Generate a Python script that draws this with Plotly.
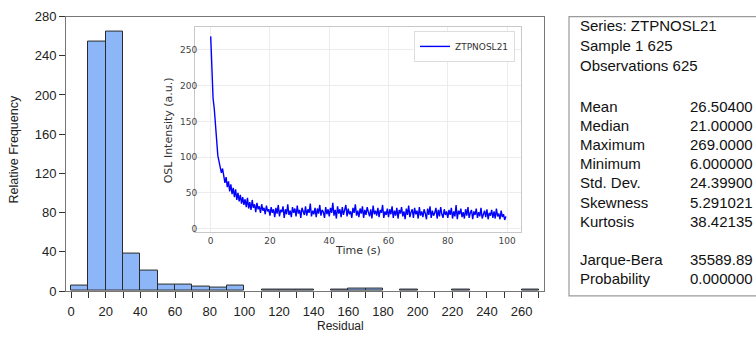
import plotly.graph_objects as go

# ---------------- data ----------------
bin_start = [0, 10, 20, 30, 40, 50, 60, 70, 80, 90, 100, 110, 120, 130,
             140, 150, 160, 170, 180, 190, 200, 210, 220, 230, 240, 250, 260]
bin_count = [6, 255, 265, 38, 21, 7, 7, 5, 4, 6, None, 1, 1, 1,
             None, 1, 2, 2, None, 1, None, None, 1, None, None, None, 1]
bin_width = 10

x_ticks = [0, 20, 40, 60, 80, 100, 120, 140, 160, 180, 200, 220, 240, 260]
y_ticks = [0, 40, 80, 120, 160, 200, 240, 280]

series_name = "ZTPNOSL21"
time_step = 0.4  # seconds between the values
osl_intensity = [
    269, 210, 182, 168, 148, 120, 102, 94, 88, 78,
    84, 70, 64, 72, 58, 66, 52, 62, 48, 57,
    44, 55, 40, 50, 38, 47, 35, 44, 33, 41,
    30, 43, 28, 37, 26, 40, 29, 34, 23, 36,
    27, 31, 22, 34, 25, 29, 20, 32, 24, 27,
    18, 30, 22, 27, 16, 29, 21, 33, 17, 26, 23, 31, 15, 27, 20, 34, 19, 25, 16, 30,
    22, 28, 17, 32, 21, 26, 15, 29, 24, 19, 31, 18, 27, 22, 35, 17, 25, 20, 29, 16,
    28, 21, 33, 18, 26, 23, 15, 30, 20, 27,
    17, 29, 22, 36, 18, 26, 14, 31, 21, 27, 16, 30, 19, 25, 33, 17, 28, 20, 24, 15,
    29, 22, 34, 18, 25, 16, 28, 21, 31, 15, 26, 19, 30, 23, 17, 27, 14, 32, 20, 25,
    18, 29, 16, 26, 22, 33, 15, 24, 19, 28,
    16, 27, 20, 31, 15, 25, 18, 29, 14, 26, 21, 30, 17, 24, 13, 28, 19, 32, 16, 23,
    27, 15, 29, 20, 25, 14, 30, 18, 24, 16, 27, 21, 13, 28, 19, 31, 15, 25, 18, 22,
    29, 14, 26, 17, 30, 20, 15, 27, 19, 24,
    15, 26, 19, 29, 14, 24, 17, 33, 13, 25, 20, 28, 16, 23, 14, 27, 18, 30, 15, 22,
    26, 13, 24, 19, 28, 15, 23, 17, 29, 14, 21, 25, 16, 27, 13, 22, 18, 26, 15, 24,
    14, 28, 17, 21, 13, 25, 16, 20, 12, 17,
]
time_s = [i * time_step for i in range(len(osl_intensity))]

stat_labels = ["Mean", "Median", "Maximum", "Minimum", "Std. Dev.",
               "Skewness", "Kurtosis"]
stat_values = ["26.50400", "21.00000", "269.0000", "6.000000", "24.39900",
               "5.291021", "38.42135"]
test_labels = ["Jarque-Bera", "Probability"]
test_values = ["35589.89", "0.000000"]
header_lines = ["Series: ZTPNOSL21", "Sample 1 625", "Observations 625"]

# ---------------- layout helpers ----------------
W, H = 756, 343
def px(x):
    return x / W
def py(y):
    return 1 - y / H

ARIAL = "Liberation Sans, Arial, sans-serif"
DEJAVU = "DejaVu Sans, sans-serif"

fig = go.Figure()

fig.add_trace(go.Bar(
    x=bin_start, y=bin_count, width=bin_width, offset=0,
    marker=dict(color="rgb(140,182,248)", line=dict(color="#2a2a2a", width=1)),
    showlegend=False, xaxis="x", yaxis="y", hoverinfo="skip",
))

fig.add_trace(go.Scatter(
    x=time_s, y=osl_intensity, mode="lines", name=series_name,
    line=dict(color="#0000ff", width=1.4),
    xaxis="x2", yaxis="y2",
))

fig.update_layout(
    width=W, height=H,
    margin=dict(l=0, r=0, t=0, b=0),
    paper_bgcolor="white", plot_bgcolor="white",
    bargap=0,
    xaxis=dict(
        domain=[px(66), px(544)], range=[-2.9, 272.9],
        tickvals=x_ticks, ticks="outside", ticklen=6, tickcolor="#333",
        minor=dict(dtick=10, tick0=0, ticks="outside", ticklen=6, tickcolor="#333"),
        showgrid=False, zeroline=False,
        showline=True, linecolor="#777", linewidth=1, mirror=True,
        tickfont=dict(family=ARIAL, size=13, color="#222"),
        ticklabelstandoff=2,
        anchor="y",
    ),
    yaxis=dict(
        domain=[py(297), py(10)], range=[0, 280],
        tickvals=y_ticks, ticks="outside", ticklen=6, tickcolor="#333",
        showgrid=False, zeroline=False,
        showline=True, linecolor="#777", linewidth=1, mirror=True,
        tickfont=dict(family=ARIAL, size=13, color="#222"),
        anchor="x",
    ),
    xaxis2=dict(
        domain=[px(195), px(521)], range=[-5.3, 104.7],
        tickvals=[0, 20, 40, 60, 80, 100], ticks="",
        showgrid=True, gridcolor="#ececec", gridwidth=1, zeroline=False,
        showline=True, linecolor="#c8c8c8", linewidth=1, mirror=True,
        tickfont=dict(family=DEJAVU, size=9, color="#444"),
        anchor="y2",
    ),
    yaxis2=dict(
        domain=[py(235.7), py(21)], range=[-5.4, 282],
        tickvals=[0, 50, 100, 150, 200, 250], ticks="",
        showgrid=True, gridcolor="#ececec", gridwidth=1, zeroline=False,
        showline=True, linecolor="#c8c8c8", linewidth=1, mirror=True,
        tickfont=dict(family=DEJAVU, size=9, color="#444"),
        ticklabelstandoff=-5,
        anchor="x2",
    ),
    legend=dict(
        x=px(515), y=py(25), xanchor="right", yanchor="top",
        bgcolor="white", bordercolor="#dddddd", borderwidth=1,
        font=dict(family=DEJAVU, size=9, color="#333"),
        itemwidth=30,
    ),
    showlegend=True,
)

annotations = [
    dict(text="Relative Frequency", x=px(14), y=py(149), textangle=-90,
         font=dict(family=ARIAL, size=12.5, color="#222")),
    dict(text="Residual", x=px(340), y=py(334),
         font=dict(family=ARIAL, size=12, color="#222")),
    dict(text="OSL Intensity (a.u.)", x=px(168), y=py(129), textangle=-90,
         font=dict(family=DEJAVU, size=11, color="#333")),
    dict(text="Time (s)", x=px(358), y=py(255),
         font=dict(family=DEJAVU, size=11, color="#333")),
]

header_y = [19.5, 40, 61]
for txt, yy in zip(header_lines, header_y):
    annotations.append(dict(text=txt, x=px(578), y=py(yy), xanchor="left",
                            font=dict(family=ARIAL, size=15, color="#111")))
stat_y = [104, 124, 144, 164, 184, 204, 224]
for lab, val, yy in zip(stat_labels, stat_values, stat_y):
    annotations.append(dict(text=lab, x=px(578), y=py(yy), xanchor="left",
                            font=dict(family=ARIAL, size=15, color="#111")))
    annotations.append(dict(text=val, x=px(688), y=py(yy), xanchor="left",
                            font=dict(family=ARIAL, size=15, color="#111")))
test_y = [264, 284]
for lab, val, yy in zip(test_labels, test_values, test_y):
    annotations.append(dict(text=lab, x=px(578), y=py(yy), xanchor="left",
                            font=dict(family=ARIAL, size=15, color="#111")))
    annotations.append(dict(text=val, x=px(688), y=py(yy), xanchor="left",
                            font=dict(family=ARIAL, size=15, color="#111")))

for a in annotations:
    a.update(xref="paper", yref="paper", showarrow=False,
             yanchor=a.get("yanchor", "middle"), xanchor=a.get("xanchor", "center"))

shapes = [dict(type="rect", xref="paper", yref="paper",
               x0=px(569), x1=px(770), y0=py(302), y1=py(10),
               line=dict(color="#9a9a9a", width=1.2), fillcolor="rgba(0,0,0,0)")]
fig.update_layout(annotations=annotations, shapes=shapes)

fig.write_html("out.html")
